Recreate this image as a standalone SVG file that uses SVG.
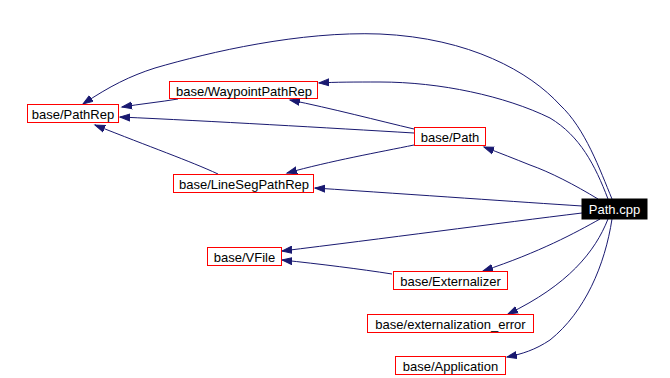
<svg xmlns="http://www.w3.org/2000/svg" width="670" height="378" viewBox="0 0 670 378">
  <style>
    .node rect { fill: #ffffff; stroke: #ff0000; stroke-width: 1; }
    .node text { font-family: "Liberation Sans", Arial, sans-serif; font-size: 13px; fill: #000000; text-anchor: middle; }
    #n_pathcpp rect { fill: #000000; stroke: #000000; }
    #n_pathcpp text { fill: #ffffff; }
    .edges path { fill: none; stroke: #191970; stroke-width: 1; marker-end: url(#arrow); }
  </style>
  <defs>
    <marker id="arrow" markerUnits="userSpaceOnUse" markerWidth="12" markerHeight="10" refX="10" refY="4" orient="auto" viewBox="0 0 12 8">
      <path d="M0,0.5 L10,4 L0,7.5 z" fill="#191970" stroke="#191970" stroke-width="1"/>
    </marker>
  </defs>
  <rect width="670" height="378" fill="#ffffff"/>

  <!-- dependency edges -->
  <g id="edges" class="edges">
    <!-- Path.cpp -> base/PathRep (long top arc) -->
    <path d="M612,199 C600,170 585,128 560,105 C530,72 470,38 380,34 C300,31 210,52 155,68 C130,76 110,86 83,104"/>
    <!-- Path.cpp -> base/WaypointPathRep -->
    <path d="M608,199 C595,165 580,136 550,118 C505,96 440,82 380,82 C355,82 335,82 319,83"/>
    <!-- Path.cpp -> base/Path -->
    <path d="M598,199 C575,185 550,172 530,165 C515,159 500,153 484,147"/>
    <!-- Path.cpp -> base/LineSegPathRep -->
    <path d="M582,206 C520,202 420,195 315,188"/>
    <!-- Path.cpp -> base/VFile -->
    <path d="M582,213 C500,223 380,239 282,251"/>
    <!-- Path.cpp -> base/Externalizer -->
    <path d="M600,219 C575,233 540,252 483,271"/>
    <!-- Path.cpp -> base/externalization_error -->
    <path d="M608,219 C595,252 568,285 508,314"/>
    <!-- Path.cpp -> base/Application -->
    <path d="M612,219 C605,265 585,312 550,340 C535,350 522,354 507,357"/>
    <!-- base/Path -> base/WaypointPathRep -->
    <path d="M414,129 C380,121 330,108 290,100"/>
    <!-- base/Path -> base/PathRep -->
    <path d="M414,133 C330,128 210,121 120,117"/>
    <!-- base/Path -> base/LineSegPathRep -->
    <path d="M414,145 C380,152 330,161 287,173"/>
    <!-- base/WaypointPathRep -> base/PathRep -->
    <path d="M178,99 C160,102 140,104 122,107"/>
    <!-- base/LineSegPathRep -> base/PathRep -->
    <path d="M218,174 C190,161 150,147 95,125"/>
    <!-- base/Externalizer -> base/VFile -->
    <path d="M392,274 C360,269 320,264 282,260"/>
  </g>

  <g id="n_pathrep" class="node">
    <rect x="27.5" y="104.5" width="91" height="18"/>
    <text x="73" y="119">base/PathRep</text>
  </g>
  <g id="n_waypointpathrep" class="node">
    <rect x="169.5" y="81.5" width="148" height="17"/>
    <text x="244" y="95.5">base/WaypointPathRep</text>
  </g>
  <g id="n_linesegpathrep" class="node">
    <rect x="173.5" y="174.5" width="140" height="18"/>
    <text x="244" y="189">base/LineSegPathRep</text>
  </g>
  <g id="n_path" class="node">
    <rect x="414.5" y="127.5" width="71" height="18"/>
    <text x="450" y="142">base/Path</text>
  </g>
  <g id="n_pathcpp" class="node">
    <rect x="582" y="199" width="65" height="20"/>
    <text x="614.5" y="214">Path.cpp</text>
  </g>
  <g id="n_vfile" class="node">
    <rect x="207.5" y="247.5" width="74" height="18"/>
    <text x="244.5" y="262">base/VFile</text>
  </g>
  <g id="n_externalizer" class="node">
    <rect x="393.5" y="271.5" width="114" height="18"/>
    <text x="450.5" y="286">base/Externalizer</text>
  </g>
  <g id="n_externalization_error" class="node">
    <rect x="367.5" y="314.5" width="166" height="18"/>
    <text x="450.5" y="329">base/externalization_error</text>
  </g>
  <g id="n_application" class="node">
    <rect x="395.5" y="356.5" width="110" height="18"/>
    <text x="450.5" y="371">base/Application</text>
  </g>
</svg>
